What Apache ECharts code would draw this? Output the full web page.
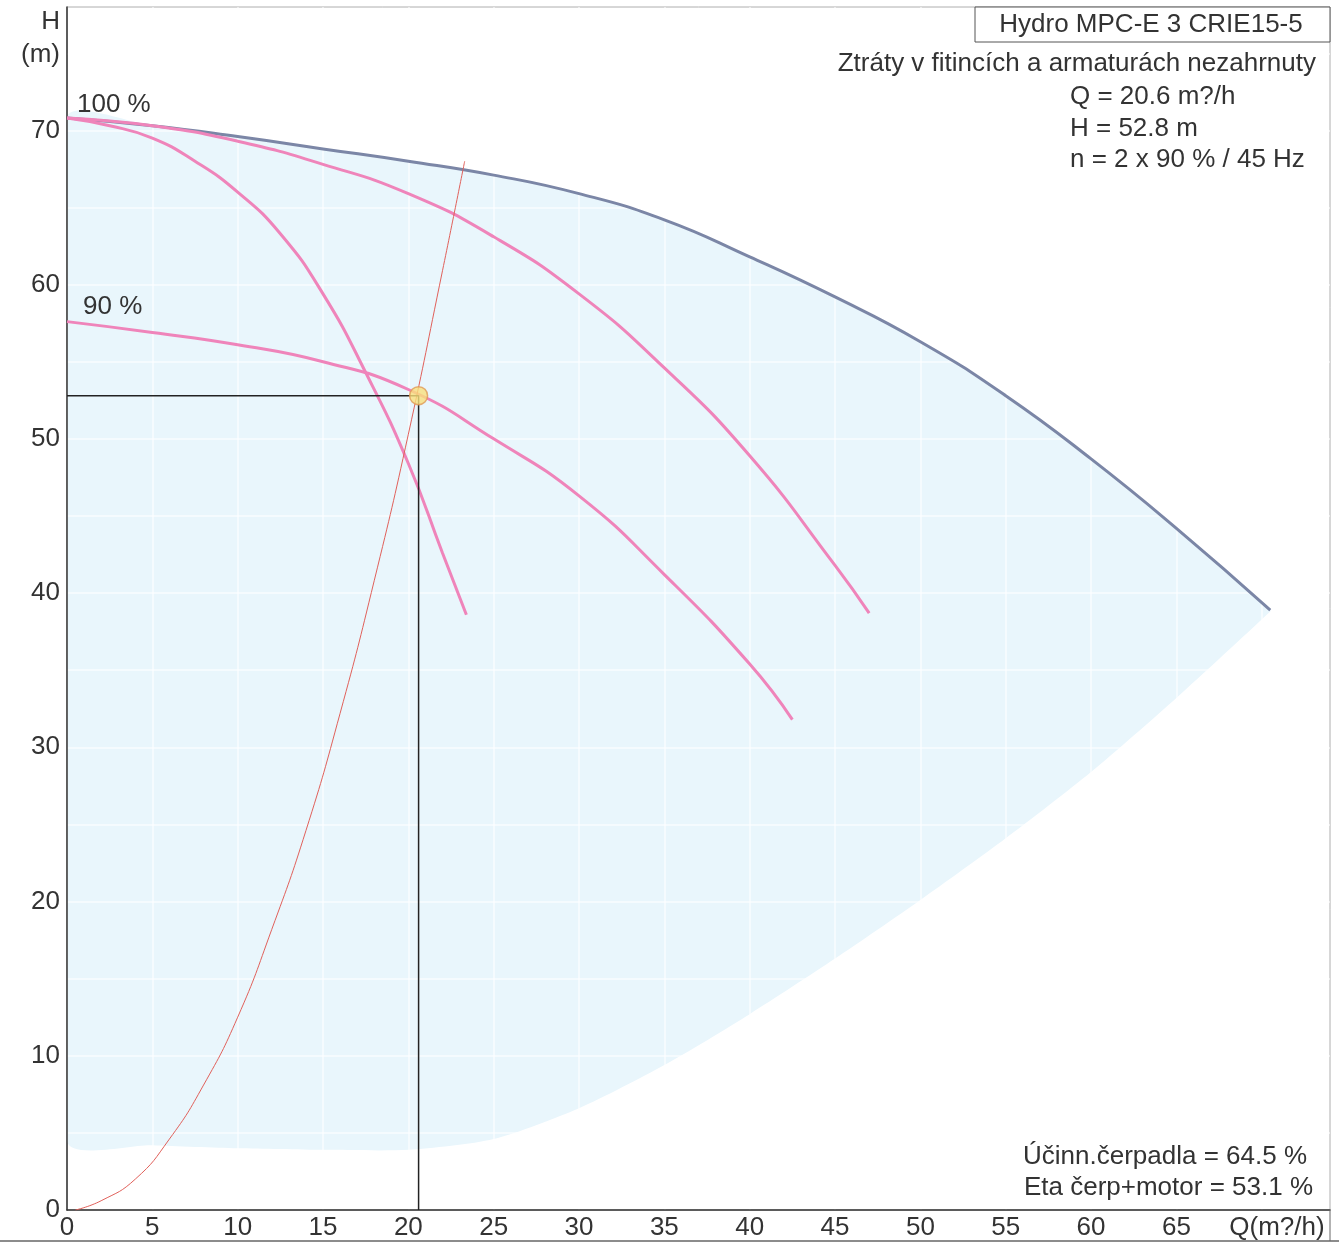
<!DOCTYPE html>
<html>
<head>
<meta charset="utf-8">
<script src="https://cdn.jsdelivr.net/npm/echarts@6/dist/echarts.min.js"></script>
<style>
html,body{margin:0;padding:0;background:#fff;}
#chart{width:1339px;height:1243px;}
</style>
</head>
<body>
<div id="chart"></div>
<script>
// ---- data ----
// max curve (3 pumps, 100 %)
const qMax = [0, 5, 10, 15, 20, 25, 30, 35, 40, 45, 50, 55, 60, 65, 70.5];
const hMax = [70.8, 70.3, 69.6, 68.8, 68.0, 67.1, 65.9, 64.2, 61.8, 59.2, 56.3, 52.8, 48.7, 44.2, 38.9];

// 1 pump, 100 %
const q1 = [0, 2.5, 5, 7.5, 10, 12.5, 15, 17.5, 20, 22, 23.4];
const h1 = [70.8, 70.3, 69.5, 68.0, 66.0, 63.3, 59.4, 54.3, 48.4, 42.6, 38.6];

// 2 pumps, 100 %
const q2 = [0, 5, 10, 15, 20, 25, 30, 35, 40, 45, 47];
const h2 = [70.8, 70.3, 69.3, 67.8, 65.9, 63.1, 59.4, 54.6, 48.9, 41.8, 38.7];

// 2 pumps, 90 %
const q90 = [0, 5, 10, 15, 20, 25, 30, 35, 40, 42.5];
const h90 = [57.6, 56.9, 56.1, 55.0, 53.2, 50.0, 46.3, 41.2, 35.4, 31.8];

// system curve
const qSys = [0.5, 2, 4, 6, 8, 10, 12, 14, 16, 18, 20, 22, 23.3];
const hSys = [0, 0.6, 2.0, 4.6, 8.1, 12.5, 18.2, 24.6, 32.2, 40.8, 50.3, 60.9, 68.0];

// lower edge of the operating range (shaded area)
const qLow = [0, 5, 10, 15, 20, 25, 30, 35, 40, 45, 50, 55, 60, 65, 70.5];
const hLow = [4.5, 4.2, 4.0, 3.9, 3.9, 4.6, 6.6, 9.4, 12.7, 16.3, 20.1, 24.1, 28.4, 33.2, 38.8];

const dutyQ = 20.6;
const dutyH = 52.8;

const xTicks = [0, 5, 10, 15, 20, 25, 30, 35, 40, 45, 50, 55, 60, 65];
const yTicks = [0, 10, 20, 30, 40, 50, 60, 70];

const infoTitle = 'Hydro MPC-E 3 CRIE15-5';
const infoLines = ['Q = 20.6 m?/h', 'H = 52.8 m', 'n = 2 x 90 % / 45 Hz'];
const infoNote = 'Ztráty v fitincích a armaturách nezahrnuty';
const effLines = ['Účinn.čerpadla = 64.5 %', 'Eta čerp+motor = 53.1 %'];

// ---- helpers ----
const zip = (a, b) => a.map((v, i) => [v, b[i]]);
const FONT = '"Liberation Sans", Arial, sans-serif';
const FS = 26;
const TXT = '#333';
const PINK = '#ef84ba';
const SM = 0.5;

function txt(x, y, s, align) {
  return {type: 'text', x: x, y: y, z: 100,
    style: {text: s, font: FS + 'px ' + FONT, fill: TXT, align: align, verticalAlign: 'middle'}};
}

const chart = echarts.init(document.getElementById('chart'), null, {renderer: 'canvas'});

const option = {
  backgroundColor: '#ffffff',
  animation: false,
  grid: {left: 67, top: 7, right: 9, bottom: 33, show: true, borderColor: '#555', borderWidth: 1, backgroundColor: 'transparent'},
  xAxis: {
    type: 'value', min: 0, max: 74, interval: 5, z: 1,
    axisLine: {show: true, onZero: false, lineStyle: {color: '#333', width: 1.5}},
    axisTick: {show: false},
    splitLine: {show: true, lineStyle: {color: 'rgba(255,255,255,0.7)', width: 1.5}},
    axisLabel: {
      color: TXT, fontSize: FS, fontFamily: FONT, margin: 5,
      formatter: v => (xTicks.indexOf(v) >= 0 ? String(v) : '')
    }
  },
  yAxis: {
    type: 'value', min: 0, max: 78, interval: 5, z: 1,
    axisLine: {show: true, onZero: false, lineStyle: {color: '#333', width: 1.5}},
    axisTick: {show: false},
    splitLine: {show: true, lineStyle: {color: 'rgba(255,255,255,0.7)', width: 1.5}},
    axisLabel: {
      color: TXT, fontSize: FS, fontFamily: FONT, margin: 7,
      formatter: v => (yTicks.indexOf(v) >= 0 ? String(v) : '')
    }
  },
  series: [
    {
      type: 'custom', z: 0, silent: true, clip: true,
      data: [0],
      renderItem: function (params, api) {
        const pts = [];
        for (let i = 0; i < qMax.length; i++) pts.push(api.coord([qMax[i], hMax[i]]));
        for (let i = qLow.length - 1; i >= 0; i--) pts.push(api.coord([qLow[i], hLow[i]]));
        return {type: 'polygon', shape: {points: pts, smooth: 0.25},
          style: {fill: '#e9f6fc', stroke: null}};
      }
    },
    {type: 'line', z: 3, data: zip(qMax, hMax), smooth: SM, symbol: 'none', lineStyle: {color: '#7b86a6', width: 3}},
    {type: 'line', z: 3, data: zip(q1, h1), smooth: SM, symbol: 'none', lineStyle: {color: PINK, width: 3}},
    {type: 'line', z: 3, data: zip(q2, h2), smooth: SM, symbol: 'none', lineStyle: {color: PINK, width: 3}},
    {type: 'line', z: 3, data: zip(q90, h90), smooth: SM, symbol: 'none', lineStyle: {color: PINK, width: 3}},
    {type: 'line', z: 4, data: zip(qSys, hSys), smooth: SM, symbol: 'none', lineStyle: {color: '#e0605a', width: 1}},
    {type: 'line', z: 4, data: [[0, dutyH], [dutyQ, dutyH], [dutyQ, 0]], symbol: 'none', lineStyle: {color: '#222', width: 1.5}},
    {type: 'scatter', z: 6, data: [[dutyQ, dutyH]], symbol: 'circle', symbolSize: 18,
      itemStyle: {color: '#f9e07c', borderColor: '#e09a55', borderWidth: 1.5}}
  ],
  graphic: [
    txt(60, 22, 'H', 'right'),
    txt(60, 55, '(m)', 'right'),
    txt(77, 105, '100 %', 'left'),
    txt(83, 307, '90 %', 'left'),
    {type: 'rect', z: 99, shape: {x: 975, y: 7, width: 355, height: 35}, style: {fill: '#fff', stroke: '#555', lineWidth: 1}},
    txt(1151, 25, infoTitle, 'center'),
    txt(1316, 64, infoNote, 'right'),
    txt(1070, 97, infoLines[0], 'left'),
    txt(1070, 129, infoLines[1], 'left'),
    txt(1070, 160, infoLines[2], 'left'),
    txt(1307, 1157, effLines[0], 'right'),
    txt(1313, 1188, effLines[1], 'right'),
    txt(1277, 1228, 'Q(m?/h)', 'center'),
    {type: 'line', z: 99, shape: {x1: 0, y1: 1241, x2: 1339, y2: 1241}, style: {stroke: '#666', lineWidth: 1.5}},
    {type: 'line', z: 99, shape: {x1: 1330, y1: 1210, x2: 1330, y2: 1241}, style: {stroke: '#666', lineWidth: 1}}
  ]
};
chart.setOption(option);
</script>
</body>
</html>
